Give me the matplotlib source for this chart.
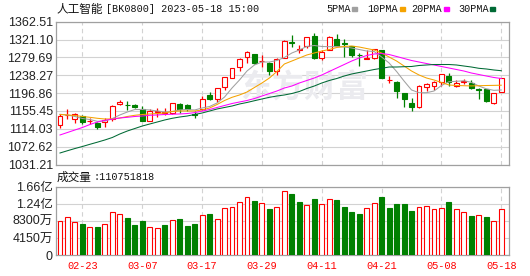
import numpy as np
import matplotlib.pyplot as plt
from matplotlib.patches import Rectangle

# trading days 2023-02-20 .. 2023-05-18
dates = ['02-20', '02-21', '02-22', '02-23', '02-24', '02-27', '02-28',
         '03-01', '03-02', '03-03', '03-06', '03-07', '03-08', '03-09', '03-10',
         '03-13', '03-14', '03-15', '03-16', '03-17', '03-20', '03-21', '03-22',
         '03-23', '03-24', '03-27', '03-28', '03-29', '03-30', '03-31',
         '04-03', '04-04', '04-06', '04-07', '04-10', '04-11', '04-12', '04-13',
         '04-14', '04-17', '04-18', '04-19', '04-20', '04-21', '04-24', '04-25',
         '04-26', '04-27', '04-28',
         '05-04', '05-05', '05-08', '05-09', '05-10', '05-11', '05-12', '05-15',
         '05-16', '05-17', '05-18']

opens = [1122, 1145, 1136, 1144, 1132, 1128, 1129, 1136, 1171, 1170,
         1170, 1160, 1133, 1153, 1151, 1151, 1171, 1169, 1148, 1159,
         1192, 1183, 1210, 1233, 1258, 1281, 1288, 1271, 1266, 1249,
         1278, 1315, 1297, 1305, 1329, 1279, 1297, 1322, 1312, 1305,
         1286, 1275, 1278, 1297, 1227, 1223, 1196, 1173, 1164, 1212,
         1214, 1223, 1237, 1213, 1223, 1220, 1206, 1206, 1175, 1200]
highs = [1148, 1159, 1151, 1146, 1140, 1130, 1138, 1169, 1182, 1178,
         1172, 1167, 1159, 1162, 1163, 1175, 1173, 1171, 1155, 1189,
         1199, 1209, 1234, 1255, 1278, 1295, 1288, 1285, 1269, 1278,
         1320, 1332, 1308, 1327, 1336, 1297, 1329, 1333, 1322, 1305,
         1289, 1297, 1300, 1298, 1237, 1224, 1197, 1185, 1216, 1220,
         1226, 1241, 1244, 1227, 1229, 1227, 1208, 1206, 1198, 1232]
lows = [1117, 1136, 1127, 1125, 1125, 1114, 1119, 1133, 1170, 1158,
        1162, 1132, 1132, 1141, 1146, 1148, 1151, 1156, 1139, 1158,
        1181, 1177, 1204, 1231, 1248, 1266, 1264, 1257, 1239, 1239,
        1278, 1303, 1289, 1302, 1275, 1274, 1296, 1306, 1281, 1281,
        1260, 1275, 1277, 1231, 1221, 1185, 1165, 1156, 1163, 1202,
        1204, 1213, 1213, 1212, 1218, 1207, 1183, 1177, 1172, 1199]
closes = [1144, 1147, 1148, 1129, 1133, 1118, 1134, 1168, 1176, 1169,
          1165, 1133, 1155, 1155, 1153, 1173, 1161, 1159, 1147, 1184,
          1183, 1208, 1234, 1254, 1276, 1292, 1266, 1272, 1247, 1275,
          1318, 1314, 1299, 1326, 1278, 1292, 1328, 1306, 1310, 1285,
          1285, 1278, 1299, 1231, 1228, 1202, 1183, 1165, 1213, 1217,
          1223, 1241, 1223, 1220, 1224, 1208, 1205, 1179, 1198, 1231]

ma5 = [1147.7, 1146.1, 1142.6, 1137.9, 1135.6, 1131.4, 1132.1, 1137.9, 1146.1, 1153.0,
       1158.8, 1158.8, 1157.7, 1155.3, 1153.0, 1154.2, 1157.7, 1158.8, 1157.7, 1162.3,
       1165.8, 1173.9, 1187.8, 1208.7, 1227.3, 1248.1, 1262.1, 1269.0, 1269.0, 1272.5,
       1279.5, 1289.9, 1296.9, 1305.0, 1307.3, 1305.0, 1304.5, 1305.0, 1303.8, 1301.5,
       1298.0, 1294.5, 1293.4, 1280.6, 1266.7, 1247.0, 1224.9, 1204.1, 1197.8, 1197.8,
       1201.7, 1214.5, 1223.3, 1224.2, 1225.4, 1221.9, 1213.3, 1206.8, 1203.3, 1204.1]
ma10 = [1147.2, 1146.1, 1144.9, 1142.6, 1140.7, 1138.4, 1136.8, 1136.8, 1139.1, 1142.6,
        1145.4, 1147.2, 1148.4, 1149.5, 1150.7, 1154.2, 1155.3, 1155.3, 1155.3, 1157.7,
        1162.3, 1170.4, 1179.7, 1187.1, 1192.5, 1199.4, 1209.9, 1220.3, 1231.9, 1247.0,
        1264.4, 1271.3, 1278.3, 1285.3, 1289.9, 1294.5, 1298.0, 1302.7, 1305.0, 1306.1,
        1303.8, 1300.3, 1296.9, 1289.9, 1280.6, 1271.3, 1259.7, 1248.1, 1238.9, 1231.9,
        1227.3, 1221.5, 1215.7, 1214.5, 1214.0, 1213.5, 1214.0, 1214.5, 1214.8, 1215.2]
ma20 = [1099.7, 1105.5, 1111.3, 1117.1, 1124.0, 1129.8, 1133.8, 1136.3, 1139.1, 1140.7,
        1142.6, 1143.7, 1145.4, 1146.1, 1147.2, 1147.9, 1148.4, 1149.5, 1151.5, 1155.0,
        1158.8, 1163.5, 1168.1, 1172.7, 1176.2, 1179.7, 1184.3, 1190.1, 1195.9, 1201.7,
        1208.7, 1213.3, 1220.3, 1226.1, 1231.9, 1238.9, 1247.0, 1255.1, 1263.2, 1271.3,
        1278.3, 1284.1, 1287.6, 1288.7, 1286.4, 1281.8, 1277.1, 1272.5, 1269.0, 1265.5,
        1262.1, 1258.6, 1255.1, 1251.6, 1248.1, 1243.5, 1240.0, 1236.5, 1233.1, 1230.7]
ma30 = [1057.9, 1063.2, 1068.3, 1073.0, 1078.1, 1083.0, 1088.1, 1093.9, 1102.0, 1108.9,
        1114.7, 1120.5, 1125.2, 1129.8, 1134.5, 1138.4, 1141.4, 1143.7, 1147.2, 1150.7,
        1155.3, 1160.0, 1163.5, 1166.9, 1171.6, 1175.1, 1179.2, 1183.2, 1187.1, 1190.1,
        1192.5, 1195.9, 1200.6, 1207.5, 1213.3, 1220.3, 1226.1, 1230.7, 1236.5, 1241.2,
        1244.7, 1248.1, 1251.6, 1254.4, 1257.4, 1257.4, 1258.1, 1258.6, 1260.9, 1262.1,
        1263.2, 1263.2, 1263.2, 1262.1, 1259.7, 1257.4, 1254.4, 1252.8, 1250.5, 1248.8]

# volume in 万 (10k shares); 1 = red hollow bar, 0 = green bar
volumes = [8252, 9150, 7936, 7524, 6723, 6796, 7451, 10363, 9878, 8980,
           7281, 8252, 6723, 6480, 7281, 8422, 8737, 7038, 7524, 9635,
           9951, 8664, 11334, 11577, 12790, 14004, 13106, 12548, 11164, 11577,
           15460, 14805, 12863, 12062, 13591, 12305, 13518, 13349, 11650, 10509,
           9951, 11334, 12548, 14077, 11407, 12378, 12378, 10679, 11577, 11819,
           11091, 11334, 12863, 11091, 10436, 9465, 9635, 9223, 8252, 11075]
vol_up = [1, 1, 1, 0, 1, 0, 1, 1, 1, 0,
          0, 0, 1, 1, 0, 1, 0, 0, 0, 1,
          0, 1, 1, 1, 1, 1, 0, 1, 0, 1,
          1, 0, 0, 1, 0, 1, 1, 0, 0, 0,
          0, 1, 1, 0, 0, 0, 0, 0, 1, 1,
          1, 1, 0, 1, 1, 0, 1, 0, 1, 1]

price_ticks = [1031.21, 1072.62, 1114.03, 1155.45, 1196.86, 1238.27, 1279.69, 1321.10, 1362.51]
vol_ticks = [0, 4150, 8300, 12450, 16600]
vol_tick_labels = ['0', '4150万', '8300万', '1.24亿', '1.66亿']
ma_names = ['5PMA', '10PMA', '20PMA', '30PMA']
ma_colors = ['#a0a0a0', '#f5a300', '#ff00ff', '#006a35']

RED = '#ff0000'
GREEN = '#008000'
FRAME = '#a0a0a0'
GRID = '#d2d2d2'
MONO = ['Liberation Mono', 'Noto Sans CJK SC']
SANS = ['Liberation Sans', 'Noto Sans CJK SC']
CJK = ['Noto Sans CJK SC', 'DejaVu Sans']

W, H = 530, 276
fig = plt.figure(figsize=(W / 100, H / 100), dpi=100)


def fx(px):
    return px / W


def fy(py):
    return 1 - py / H


left, right = 55.7, 509.3
ax = fig.add_axes([fx(left), fy(164.5), fx(right) - fx(left), fy(21.7) - fy(164.5)])
axv = fig.add_axes([fx(left), fy(255), fx(right) - fx(left), fy(186.7) - fy(255)])

n = len(closes)
x = np.arange(n)
label_idx = list(range(3, n, 8))
xlim = (-0.575, 60.07)

# watermark
ax.text(fx(304), fy(89), '东方财富', transform=fig.transFigure, ha='center', va='center',
        fontsize=23, fontweight='bold', color='#ebebef', family=CJK, zorder=1)

# candles
for i in range(n):
    o, c = opens[i], closes[i]
    col = RED if c >= o else GREEN
    ax.vlines(x[i], lows[i], highs[i], color=col, lw=0.9, zorder=3)
    bottom = min(o, c)
    h = max(abs(c - o), 0.6)
    ax.add_patch(Rectangle((x[i] - 0.33, bottom), 0.66, h,
                           facecolor='white' if c >= o else col,
                           edgecolor=col, lw=0.8, zorder=4))

for vals, col in zip([ma5, ma10, ma20, ma30], ma_colors):
    ax.plot(x, vals, color=col, lw=0.75, zorder=5)

ax.set_xlim(*xlim)
ax.set_ylim(price_ticks[0], price_ticks[-1])
ax.set_yticks(price_ticks)
ax.set_yticklabels([f'{v:.2f}' for v in price_ticks], family=SANS, fontsize=9, color='#222222')
ax.set_xticks(label_idx)
ax.set_xticklabels([])
ax.tick_params(length=0, pad=2)
ax.grid(axis='y', color=GRID, lw=0.8, ls='-', zorder=0)
ax.grid(axis='x', color=GRID, lw=0.8, ls=(0, (4, 3)), zorder=0)

# volume
for i in range(n):
    col = RED if vol_up[i] else GREEN
    axv.add_patch(Rectangle((x[i] - 0.33, 0), 0.66, volumes[i],
                            facecolor='white' if vol_up[i] else col,
                            edgecolor=col, lw=0.8, zorder=3))
axv.set_xlim(*xlim)
axv.set_ylim(vol_ticks[0], vol_ticks[-1])
axv.set_yticks(vol_ticks)
axv.set_yticklabels(vol_tick_labels, family=SANS, fontsize=9, color='#222222')
axv.set_xticks(label_idx)
axv.set_xticklabels([dates[i] for i in label_idx], family=MONO, fontsize=7.4, color=RED)
axv.tick_params(axis='y', length=0, pad=2)
axv.tick_params(axis='x', length=0, pad=4)
axv.grid(axis='y', color=GRID, lw=0.8, ls='-', zorder=0)
axv.grid(axis='x', color=GRID, lw=0.8, ls=(0, (4, 3)), zorder=0)

for a in (ax, axv):
    a.set_axisbelow(True)
    for s in a.spines.values():
        s.set_color(FRAME)
        s.set_linewidth(0.9)

# title and labels
fig.text(fx(57), fy(9), '人工智能', family=CJK, fontsize=8.4, color='#111111', va='center', ha='left')
fig.text(fx(106), fy(9), '[BK0800] 2023-05-18 15:00', family=MONO, fontsize=7.3,
         color='#111111', va='center', ha='left')
fig.text(fx(57), fy(177.5), '成交量', family=CJK, fontsize=8.4, color='#111111', va='center', ha='left')
fig.text(fx(93), fy(177.5), ':110751818', family=MONO, fontsize=7.3,
         color='#111111', va='center', ha='left')

# legend
leg_x = [326, 367.7, 411.7, 458.3]
for name, col, lx in zip(ma_names, ma_colors, leg_x):
    fig.text(fx(lx), fy(9), name, family=MONO, fontsize=7.3, color='#111111',
             va='center', ha='left')
    mx = lx + 6 * len(name) + 2
    fig.patches.append(Rectangle((fx(mx), fy(10.5)), fx(5), 3 / H, color=col,
                                 transform=fig.transFigure, figure=fig))

fig.savefig('out.png', dpi=100)
